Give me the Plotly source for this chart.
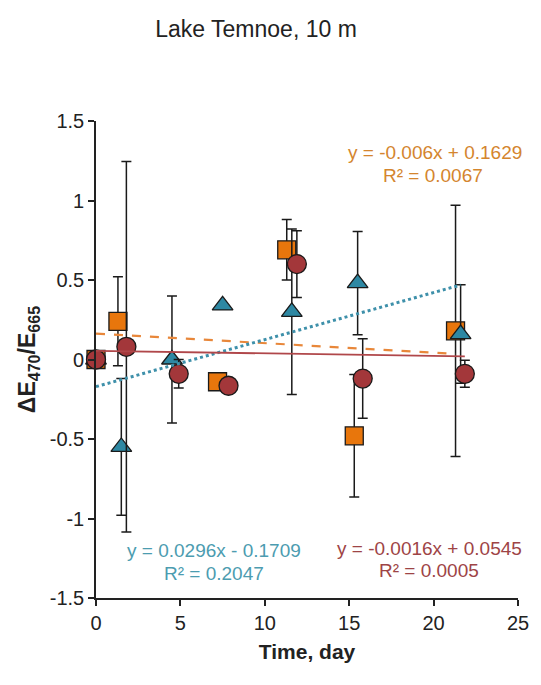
import plotly.graph_objects as go

# ---- data ----
days_sq = [0, 1.3, 7.2, 11.3, 15.3, 21.3]
val_sq = [0.0, 0.24, -0.14, 0.69, -0.48, 0.18]
err_sq = [0.0, 0.28, 0.0, 0.19, 0.385, 0.79]

days_tri = [0, 1.5, 4.5, 7.5, 11.6, 15.5, 21.6]
val_tri = [0.0, -0.55, 0.0, 0.34, 0.30, 0.48, 0.16]
err_tri = [0.0, 0.43, 0.40, 0.0, 0.52, 0.325, 0.31]

days_ci = [0, 1.8, 4.9, 7.85, 11.9, 15.8, 21.85]
val_ci = [0.0, 0.08, -0.09, -0.165, 0.60, -0.12, -0.09]
err_ci = [0.0, 1.165, 0.09, 0.0, 0.21, 0.25, 0.085]

# trendline equations (slope, intercept, R2)
fit_sq = (-0.006, 0.1629, 0.0067)
fit_tri = (0.0296, -0.1709, 0.2047)
fit_ci = (-0.0016, 0.0545, 0.0005)

y_tick_vals = [-1.5, -1, -0.5, 0, 0.5, 1, 1.5]
y_tick_text = ["-1.5", "-1", "-0.5", "0", "0.5", "1", "1.5"]
x_tick_vals = [0, 5, 10, 15, 20, 25]
x_tick_text = ["0", "5", "10", "15", "20", "25"]

C_SQ = "#E8760C"
C_TRI = "#2E88A3"
C_CI = "#A3373A"
T_SQ = "#D4852E"
T_TRI = "#4C9CB0"
T_CI = "#9E4446"

fig = go.Figure()

def trend(days, fit, color, dash, width):
    x0, x1 = 0, max(days)
    fig.add_trace(go.Scatter(x=[x0, x1], y=[fit[0] * x0 + fit[1], fit[0] * x1 + fit[1]],
                             mode="lines", line=dict(color=color, dash=dash, width=width),
                             showlegend=False, hoverinfo="skip", cliponaxis=False))

def series(days, vals, errs, symbol, color, size):
    fig.add_trace(go.Scatter(
        x=days, y=vals, mode="markers", cliponaxis=False,
        marker=dict(symbol=symbol, size=size, color=color, line=dict(color="#1a1a1a", width=1.3)),
        error_y=dict(type="data", array=errs, visible=True, color="#1a1a1a", thickness=1.5, width=5),
        showlegend=False))

series(days_sq, val_sq, err_sq, "square", C_SQ, 18)
series(days_tri, val_tri, err_tri, "triangle-up", C_TRI, 18)
series(days_ci, val_ci, err_ci, "circle", C_CI, 19)

trend(days_sq, fit_sq, "#E8873A", "dash", 2.2)
trend(days_tri, fit_tri, "#3E90AA", "dot", 3)
trend(days_ci, fit_ci, "#B0474A", "solid", 1.8)

def eq_text(fit):
    s, b = fit[0], fit[1]
    sign = "+" if b >= 0 else "-"
    return f"y = {s:g}x {sign} {abs(b):g}"

FONT = "Liberation Sans, Arial, sans-serif"
ann = [
    (20.06, 1.30, eq_text(fit_sq), T_SQ), (19.98, 1.16, f"R² = {fit_sq[2]:.4f}", T_SQ),
    (6.97, -1.20, eq_text(fit_tri), T_TRI), (7.0, -1.345, f"R² = {fit_tri[2]:.4f}", T_TRI),
    (19.74, -1.19, eq_text(fit_ci), T_CI), (19.74, -1.33, f"R² = {fit_ci[2]:.4f}", T_CI),
]
for x, y, t, c in ann:
    fig.add_annotation(x=x, y=y, xref="x", yref="y", text=t, showarrow=False,
                       font=dict(family=FONT, size=19, color=c), xanchor="center", yanchor="middle")

fig.update_layout(
    width=541, height=685,
    margin=dict(l=96, r=20, t=121, b=87),
    paper_bgcolor="white", plot_bgcolor="white",
    font=dict(family=FONT, color="#222"),
    title=dict(text="Lake Temnoe, 10 m", x=256 / 541, xref="container", xanchor="center",
               y=1 - 29 / 685, yref="container", yanchor="middle",
               font=dict(family=FONT, size=23, color="#222")),
    xaxis=dict(range=[0, 25], tickvals=x_tick_vals, ticktext=x_tick_text,
               showline=True, linecolor="#222", linewidth=1.6, ticks="outside", ticklen=6,
               tickwidth=1.5, tickcolor="#222", showgrid=False, zeroline=False,
               tickfont=dict(family=FONT, size=20, color="#222"),
               title=dict(text="<b>Time, day</b>", font=dict(family=FONT, size=21, color="#222"), standoff=12)),
    yaxis=dict(range=[-1.5, 1.5], tickvals=y_tick_vals, ticktext=y_tick_text,
               showline=True, linecolor="#222", linewidth=1.6, ticks="outside", ticklen=6,
               tickwidth=1.5, tickcolor="#222", showgrid=False, zeroline=False,
               tickfont=dict(family=FONT, size=20, color="#222"),
               title=dict(text="<b>ΔE<sub>470</sub>/E<sub>665</sub></b>", font=dict(family=FONT, size=23, color="#222"), standoff=8)),
)

fig.write_html("out.html")
